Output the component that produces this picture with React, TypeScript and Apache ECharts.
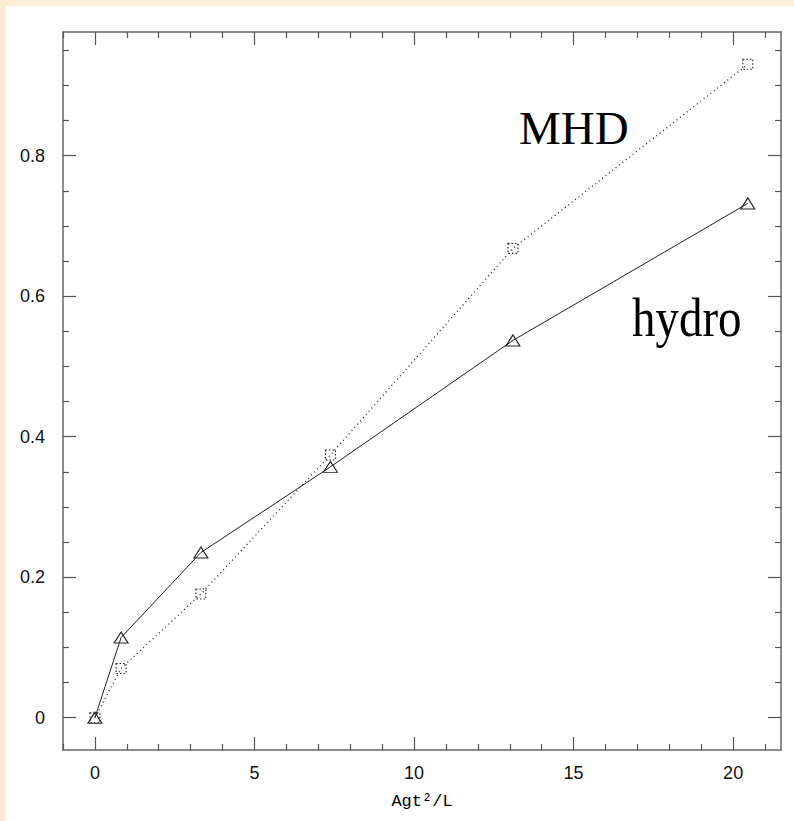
import React, { useEffect, useRef } from "react";
import * as echarts from "echarts";

// ---- data ----
const xValues = [0, 0.82, 3.32, 7.38, 13.1, 20.46];
const hydroValues = [0, 0.114, 0.235, 0.357, 0.537, 0.732];
const mhdValues = [0, 0.07, 0.176, 0.374, 0.668, 0.93];

const xMajorTicks = [0, 5, 10, 15, 20];
const xMinorTicks = [-1, 1, 2, 3, 4, 6, 7, 8, 9, 11, 12, 13, 14, 16, 17, 18, 19, 21];
const yMajorTicks = [0, 0.2, 0.4, 0.6, 0.8];
const yMinorTicks = [0.05, 0.1, 0.15, 0.25, 0.3, 0.35, 0.45, 0.5, 0.55, 0.65, 0.7, 0.75, 0.85, 0.9, 0.95];

const xTitle = "Agt\u00b2/L";
const mhdLabel = "MHD";
const hydroLabel = "hydro";

const X_MIN = -1;
const X_MAX = 21.5;
const Y_MIN = -0.046;
const Y_MAX = 0.976;

const AXIS_COLOR = "#666";
const TICK_COLOR = "#555";

function xAxisDef(position: "top" | "bottom", ticks: number[], len: number, showLine: boolean, showLabel: boolean, extra: any = {}) {
  return {
    type: "value",
    position,
    min: X_MIN,
    max: X_MAX,
    axisLine: { show: showLine, onZero: false, lineStyle: { color: AXIS_COLOR, width: 1.5 } },
    axisTick: { show: true, inside: true, length: len, customValues: ticks, lineStyle: { color: TICK_COLOR, width: 1.2 } },
    axisLabel: showLabel
      ? { show: true, customValues: ticks, fontSize: 18, color: "#111", fontFamily: "Liberation Sans, Arial, sans-serif", margin: 14 }
      : { show: false },
    splitLine: { show: false },
    ...extra,
  };
}

function yAxisDef(position: "left" | "right", ticks: number[], len: number, showLine: boolean, showLabel: boolean) {
  return {
    type: "value",
    position,
    min: Y_MIN,
    max: Y_MAX,
    axisLine: { show: showLine, onZero: false, lineStyle: { color: AXIS_COLOR, width: 1.5 } },
    axisTick: { show: true, inside: true, length: len, customValues: ticks, lineStyle: { color: TICK_COLOR, width: 1.2 } },
    axisLabel: showLabel
      ? { show: true, customValues: ticks, fontSize: 18, color: "#111", fontFamily: "Liberation Sans, Arial, sans-serif", margin: 18 }
      : { show: false },
    splitLine: { show: false },
  };
}

export default function App() {
  const ref = useRef<HTMLDivElement>(null);

  useEffect(() => {
    document.body.style.margin = "0";
    document.body.style.overflow = "hidden";
    if (!ref.current) return;
    const chart = echarts.init(ref.current, undefined, { renderer: "svg" });

    const hydroData = xValues.map((x, i) => [x, hydroValues[i]]);
    const mhdData = xValues.map((x, i) => [x, mhdValues[i]]);

    chart.setOption({
      animation: false,
      backgroundColor: "#ffffff",
      grid: { left: 57, top: 26, right: 13, bottom: 71, containLabel: false },
      xAxis: [
        xAxisDef("bottom", xMajorTicks, 13, true, true, {
          name: xTitle,
          nameLocation: "middle",
          nameGap: 43,
          nameTextStyle: { fontSize: 17, color: "#000", fontFamily: "Liberation Mono, Courier New, monospace" },
        }),
        xAxisDef("bottom", xMinorTicks, 6, false, false),
        xAxisDef("top", xMajorTicks, 13, true, false),
        xAxisDef("top", xMinorTicks, 6, false, false),
      ],
      yAxis: [
        yAxisDef("left", yMajorTicks, 13, true, true),
        yAxisDef("left", yMinorTicks, 6, false, false),
        yAxisDef("right", yMajorTicks, 13, true, false),
        yAxisDef("right", yMinorTicks, 6, false, false),
      ],
      series: [
        {
          name: "hydro",
          type: "line",
          xAxisIndex: 0,
          yAxisIndex: 0,
          data: hydroData,
          symbol: "triangle",
          symbolSize: [14, 11],
          lineStyle: { color: "#222", width: 1, type: "solid" },
          itemStyle: { color: "rgba(255,255,255,0)", borderColor: "#222", borderWidth: 1.1 },
          z: 3,
        },
        {
          name: "MHD",
          type: "line",
          xAxisIndex: 0,
          yAxisIndex: 0,
          data: mhdData,
          symbol: "rect",
          symbolSize: 10,
          lineStyle: { color: "#222", width: 1.3, type: [1, 3.3] },
          itemStyle: { color: "rgba(255,255,255,0)", borderColor: "#222", borderWidth: 1.1, borderType: [1.5, 2] },
          z: 2,
        },
      ],
      graphic: [
        {
          type: "text",
          left: 513,
          top: 98,
          style: { text: mhdLabel, font: "47px 'Liberation Serif', 'Times New Roman', serif", fill: "#000" },
        },
        {
          type: "text",
          x: 626,
          y: 285,
          scaleY: 1.15,
          style: { text: hydroLabel, font: "47px 'Liberation Serif', 'Times New Roman', serif", fill: "#000", verticalAlign: "top", align: "left" },
        },
      ],
    });

    return () => chart.dispose();
  }, []);

  return (
    <div style={{ width: 794, height: 821, background: "#fbeed7", position: "relative", overflow: "hidden" }}>
      <div ref={ref} style={{ position: "absolute", left: 6, top: 6, width: 788, height: 815 }} />
    </div>
  );
}
